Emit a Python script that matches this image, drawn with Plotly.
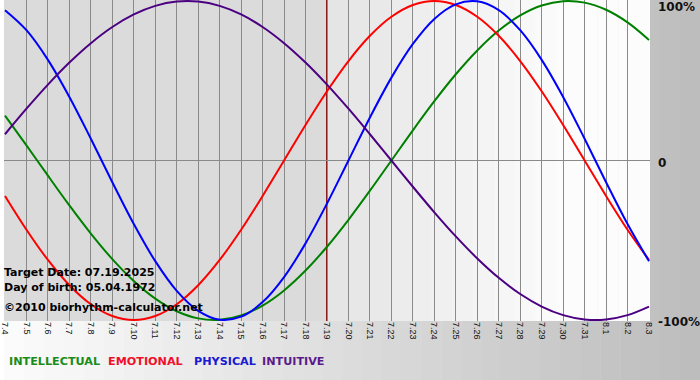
import plotly.graph_objects as go

# ---- data ----
days = ["7.4", "7.5", "7.6", "7.7", "7.8", "7.9", "7.10", "7.11", "7.12", "7.13",
        "7.14", "7.15", "7.16", "7.17", "7.18", "7.19", "7.20", "7.21", "7.22", "7.23",
        "7.24", "7.25", "7.26", "7.27", "7.28", "7.29", "7.30", "7.31", "8.1", "8.2", "8.3"]

intellectual = [0.2817, 0.0951, -0.0951, -0.2817, -0.4582, -0.6182, -0.7557, -0.8660, -0.9450, -0.9898,
                -0.9989, -0.9718, -0.9096, -0.8146, -0.6901, -0.5406, -0.3717, -0.1893, 0.0, 0.1893,
                0.3717, 0.5406, 0.6901, 0.8146, 0.9096, 0.9718, 0.9989, 0.9898, 0.9450, 0.8660, 0.7557]

emotional = [-0.2225, -0.4339, -0.6235, -0.7818, -0.9010, -0.9749, -1.0, -0.9749, -0.9010, -0.7818,
             -0.6235, -0.4339, -0.2225, 0.0, 0.2225, 0.4339, 0.6235, 0.7818, 0.9010, 0.9749,
             1.0, 0.9749, 0.9010, 0.7818, 0.6235, 0.4339, 0.2225, 0.0, -0.2225, -0.4339, -0.6235]

physical = [0.9423, 0.8170, 0.6311, 0.3984, 0.1362, -0.1362, -0.3984, -0.6311, -0.8170, -0.9423,
            -0.9977, -0.9791, -0.8879, -0.7308, -0.5196, -0.2698, 0.0, 0.2698, 0.5196, 0.7308,
            0.8879, 0.9791, 0.9977, 0.9423, 0.8170, 0.6311, 0.3984, 0.1362, -0.1362, -0.3984, -0.6311]

intuitive = [0.1646, 0.3247, 0.4759, 0.6142, 0.7357, 0.8372, 0.9158, 0.9694, 0.9966, 0.9966,
             0.9694, 0.9158, 0.8372, 0.7357, 0.6142, 0.4759, 0.3247, 0.1646, 0.0, -0.1646,
             -0.3247, -0.4759, -0.6142, -0.7357, -0.8372, -0.9158, -0.9694, -0.9966, -0.9966, -0.9694, -0.9158]

series_names = ["INTELLECTUAL", "EMOTIONAL", "PHYSICAL", "INTUITIVE"]
series_colors = ["#008000", "#ff0000", "#0000ff", "#4b0082"]
legend_colors = ["#1a8c1a", "#f0102a", "#1a1ad0", "#5a1a8c"]

target_day = "7.19"
target_text = "Target Date: 07.19.2025"
birth_text = "Day of birth: 05.04.1972"
credit_text = "\u00a92010 biorhythm-calculator.net"

y_tick_vals = [1, 0, -1]
y_tick_text = ["100%", "0", "-100%"]

# ---- layout geometry ----
W, H = 700, 380
PL, PR, PT, PB = 0, 50, 0, 59
PW, PH = W - PL - PR, H - PT - PB


def px_x(px):
    return (px - PL) / PW


def px_y(py):
    return 1 - (py - PT) / PH


def grey(v):
    v = int(round(v))
    return f"rgb({v},{v},{v})"


fig = go.Figure()

all_series = [intellectual, emotional, physical, intuitive]
for name, vals, col in zip(series_names, all_series, series_colors):
    fig.add_trace(go.Scatter(
        x=days, y=vals, mode="lines", name=name,
        line=dict(color=col, width=2, shape="spline", smoothing=1.0),
        hoverinfo="skip", showlegend=False))

shapes = []
# outer (paper) gradient, white on the left to grey on the right
n_strips = 35
for i in range(n_strips):
    x0 = i * W / n_strips
    x1 = (i + 1) * W / n_strips
    c = 252 - (252 - 188) * ((x0 + x1) / 2) / W
    shapes.append(dict(type="rect", xref="paper", yref="paper",
                       x0=px_x(x0), x1=px_x(x1 + 0.5), y0=px_y(H), y1=px_y(0),
                       fillcolor=grey(c), line=dict(width=0), layer="below"))

ti = days.index(target_day)
n = len(days)
# past region
shapes.append(dict(type="rect", xref="x", yref="paper", x0=-1, x1=ti, y0=0, y1=1,
                   fillcolor="rgb(219,219,219)", line=dict(width=0), layer="below"))
# future region gradient
steps = 16
span = (n - 0.5) - ti
for i in range(steps):
    a = ti + span * i / steps
    b = ti + span * (i + 1) / steps
    c = 228 + (252 - 228) * min(1.0, (i + 0.5) / (steps * 0.7))
    shapes.append(dict(type="rect", xref="x", yref="paper", x0=a, x1=b + 0.02, y0=0, y1=1,
                       fillcolor=grey(c), line=dict(width=0), layer="below"))

# target date marker
shapes.append(dict(type="line", xref="x", yref="paper", x0=ti, x1=ti, y0=0, y1=1,
                   line=dict(color="#8b1c1c", width=2), layer="between"))

annotations = []
label_font = dict(family="DejaVu Sans", size=11, color="#000000", weight="bold")
for txt, cy in [(target_text, 272), (birth_text, 287.5), (credit_text, 307)]:
    annotations.append(dict(text=txt, xref="paper", yref="paper", x=px_x(-2), y=px_y(cy),
                            xanchor="left", yanchor="middle", showarrow=False, font=label_font))

for txt, yv, shift in zip(y_tick_text, y_tick_vals, [-6, -2, -2]):
    annotations.append(dict(text=txt, xref="paper", yref="y", x=px_x(656), y=yv, yshift=shift,
                            xanchor="left", yanchor="middle", showarrow=False,
                            font=dict(family="DejaVu Sans", size=12, color="#111111", weight="bold")))

legend_x = [3, 103, 189, 258]
for txt, col, lx in zip(series_names, legend_colors, legend_x):
    annotations.append(dict(text=txt, xref="paper", yref="paper", x=px_x(lx), y=px_y(362),
                            xanchor="left", yanchor="middle", showarrow=False,
                            font=dict(family="DejaVu Sans", size=11.2, color=col, weight="bold")))

half = 1 / 21.6
fig.update_layout(
    width=W, height=H,
    margin=dict(l=PL, r=PR, t=PT, b=PB, pad=0),
    paper_bgcolor="#ffffff",
    plot_bgcolor="rgba(0,0,0,0)",
    shapes=shapes,
    annotations=annotations,
    xaxis=dict(type="category", range=[-half, n - 1 + half], showgrid=True,
               gridcolor="#8a8a8a", gridwidth=1, zeroline=False, showline=False,
               tickangle=90, ticks="", tickfont=dict(family="Liberation Sans", size=9, color="#111111"),
               fixedrange=True),
    yaxis=dict(range=[-1.00625, 1.00625], tickvals=y_tick_vals, showticklabels=False,
               showgrid=True, gridcolor="#8a8a8a", gridwidth=1, zeroline=False,
               showline=False, ticks="", fixedrange=True),
    showlegend=False,
)

fig.write_html("out.html", config={"displayModeBar": False},
               post_script="document.body.style.margin='0';document.body.style.overflow='hidden';")
